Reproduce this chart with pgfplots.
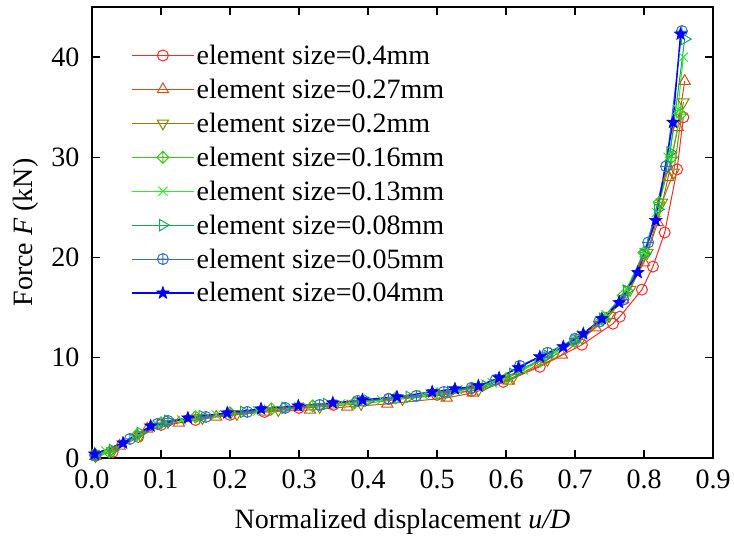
\documentclass[border=0pt]{standalone}
\usepackage{fontspec}
\setmainfont{Liberation Serif}
\usepackage{pgfplots}
\pgfplotsset{compat=1.18}
\usetikzlibrary{plotmarks}

\definecolor{c1}{RGB}{255,40,40}
\definecolor{c2}{RGB}{210,80,20}
\definecolor{c3}{RGB}{140,130,0}
\definecolor{c4}{RGB}{60,200,30}
\definecolor{c5}{RGB}{40,240,40}
\definecolor{c6}{RGB}{20,170,90}
\definecolor{c7}{RGB}{48,112,192}
\definecolor{c8}{RGB}{0,0,255}

% diamond with a cross inside
\pgfdeclareplotmark{diamondplus}{%
  \pgfpathmoveto{\pgfqpoint{0pt}{\pgfplotmarksize}}%
  \pgfpathlineto{\pgfqpoint{\pgfplotmarksize}{0pt}}%
  \pgfpathlineto{\pgfqpoint{0pt}{-\pgfplotmarksize}}%
  \pgfpathlineto{\pgfqpoint{-\pgfplotmarksize}{0pt}}%
  \pgfpathclose
  \pgfpathmoveto{\pgfqpoint{0pt}{\pgfplotmarksize}}%
  \pgfpathlineto{\pgfqpoint{0pt}{-\pgfplotmarksize}}%
  \pgfpathmoveto{\pgfqpoint{\pgfplotmarksize}{0pt}}%
  \pgfpathlineto{\pgfqpoint{-\pgfplotmarksize}{0pt}}%
  \pgfusepathqstroke}
% filled five-point star
\pgfdeclareplotmark{fivestar}{%
  \pgfpathmoveto{\pgfpointpolar{90}{\pgfplotmarksize}}%
  \pgfpathlineto{\pgfpointpolar{126}{0.42\pgfplotmarksize}}%
  \pgfpathlineto{\pgfpointpolar{162}{\pgfplotmarksize}}%
  \pgfpathlineto{\pgfpointpolar{198}{0.42\pgfplotmarksize}}%
  \pgfpathlineto{\pgfpointpolar{234}{\pgfplotmarksize}}%
  \pgfpathlineto{\pgfpointpolar{270}{0.42\pgfplotmarksize}}%
  \pgfpathlineto{\pgfpointpolar{306}{\pgfplotmarksize}}%
  \pgfpathlineto{\pgfpointpolar{342}{0.42\pgfplotmarksize}}%
  \pgfpathlineto{\pgfpointpolar{18}{\pgfplotmarksize}}%
  \pgfpathlineto{\pgfpointpolar{54}{0.42\pgfplotmarksize}}%
  \pgfpathclose
  \pgfusepathqfillstroke}

\newcommand{\bigfont}{\fontsize{28}{31}\selectfont}

\begin{document}
\begin{tikzpicture}
\begin{axis}[
    name=ax,
    scale only axis,
    width=621pt, height=451pt,
    xmin=0, xmax=0.9, ymin=0, ymax=45,
    xtick={0,0.1,...,0.9},
    ytick={0,10,20,30,40},
    /pgf/number format/assume math mode=true,
    tick label style={font=\bigfont},
    xticklabel style={yshift=-8pt, /pgf/number format/.cd, fixed, fixed zerofill, precision=1},
    yticklabel style={xshift=-9pt},
    label style={font=\bigfont},
    xlabel={Normalized displacement \textit{u/D}},
    ylabel={Force \textit{F} (kN)},
    xlabel style={yshift=-14pt},
    ylabel style={yshift=6pt},
    axis line style={line width=1.6pt},
    major tick style={line width=1.4pt, black},
    major tick length=8pt,
    tick align=inside,
    legend cell align=left,
    legend style={draw=none, fill=none, font=\bigfont,
        at={(0.058,0.925)}, anchor=north west, row sep=9pt},
    legend image code/.code={%
        \draw[mark repeat=2,mark phase=2,#1]
        plot coordinates {(0pt,0pt)(31pt,0pt)(62pt,0pt)};},
    every axis plot/.append style={line width=1pt, mark size=5.5pt},
]
\addplot[c1, mark=o] coordinates {
(0.005,0.2)(0.03,0.6)(0.067,2.1)(0.1,3.3)(0.15,3.8)(0.2,4.3)(0.25,4.6)(0.3,5.0)
(0.35,5.3)(0.43,5.9)(0.5,6.3)(0.55,6.7)(0.596,7.6)(0.649,9.1)(0.710,11.3)
(0.755,13.4)(0.765,14.1)(0.797,16.8)(0.813,19.1)(0.830,22.5)(0.848,28.8)(0.857,34.0)};
\addlegendentry{element size=0.4mm}
\addplot[c2, mark=triangle, mark size=6.5pt] coordinates {
(0.005,0.2)(0.04,1.2)(0.08,2.9)(0.126,3.5)(0.18,4.1)(0.25,4.6)(0.316,4.8)(0.37,5.1)
(0.428,5.4)(0.514,6.0)(0.552,6.5)(0.604,7.7)(0.681,10.3)(0.73,13.0)(0.77,15.8)
(0.80,19.5)(0.82,23.5)(0.835,28.0)(0.849,33.0)(0.859,37.6)};
\addlegendentry{element size=0.27mm}
\addplot[c3, mark=triangle, mark size=6.5pt, every mark/.append style={rotate=180}] coordinates {
(0.005,0.2)(0.03,0.7)(0.07,2.3)(0.11,3.6)(0.16,4.0)(0.21,4.4)(0.27,4.8)(0.33,5.1)
(0.39,5.4)(0.45,5.9)(0.51,6.3)(0.56,6.8)(0.61,8.0)(0.66,9.8)(0.71,12.0)(0.75,14.2)
(0.78,16.8)(0.805,20.5)(0.826,25.5)(0.843,28.5)(0.857,35.5)};
\addlegendentry{element size=0.2mm}
\addplot[c4, mark=diamondplus, mark size=6pt] coordinates {
(0.005,0.3)(0.025,0.6)(0.065,2.3)(0.1,3.5)(0.15,4.1)(0.2,4.5)(0.26,4.9)(0.32,5.2)
(0.38,5.5)(0.44,6.0)(0.5,6.4)(0.55,6.9)(0.6,7.9)(0.65,9.7)(0.7,11.6)(0.74,13.8)
(0.77,16.2)(0.80,20.5)(0.822,25.5)(0.84,30.0)(0.853,34.3)};
\addlegendentry{element size=0.16mm}
\addplot[c5, mark=x, mark size=6.5pt] coordinates {
(0.005,0.3)(0.02,0.7)(0.06,2.0)(0.095,3.3)(0.13,3.8)(0.18,4.3)(0.24,4.7)(0.3,5.1)
(0.36,5.4)(0.42,5.8)(0.48,6.3)(0.53,6.8)(0.58,7.5)(0.625,8.8)(0.67,10.6)(0.71,12.3)
(0.745,14.3)(0.775,16.8)(0.80,20.5)(0.818,24.5)(0.835,30.0)(0.849,34.8)(0.857,40.0)};
\addlegendentry{element size=0.13mm}
\addplot[c6, mark=triangle, mark size=6.5pt, every mark/.append style={rotate=-90}] coordinates {
(0.005,0.3)(0.03,0.8)(0.07,2.5)(0.11,3.7)(0.16,4.2)(0.22,4.6)(0.28,5.0)(0.34,5.4)
(0.40,5.7)(0.46,6.1)(0.52,6.6)(0.57,7.2)(0.61,8.4)(0.66,10.2)(0.70,11.8)(0.74,13.9)
(0.775,16.7)(0.80,20.3)(0.82,24.8)(0.838,30.5)(0.859,41.8)};
\addlegendentry{element size=0.08mm}
\addplot[c7, mark=oplus] coordinates {
(0.005,0.3)(0.055,1.9)(0.095,3.4)(0.11,3.7)(0.165,4.1)(0.225,4.6)(0.28,5.0)(0.33,5.3)
(0.385,5.7)(0.43,5.9)(0.47,6.2)(0.51,6.6)(0.55,7.0)(0.585,7.8)(0.62,9.2)(0.66,10.5)
(0.70,11.9)(0.735,13.6)(0.77,15.8)(0.806,21.5)(0.832,29.1)(0.855,42.6)};
\addlegendentry{element size=0.05mm}
\addplot[c8, line width=1.4pt, mark=fivestar, mark size=6.5pt, mark options={line width=0.6pt}] coordinates {
(0.004,0.4)(0.045,1.5)(0.085,3.2)(0.139,4.0)(0.196,4.5)(0.245,4.9)(0.299,5.2)(0.349,5.5)
(0.392,5.8)(0.442,6.1)(0.493,6.6)(0.526,6.9)(0.560,7.2)(0.590,8.0)(0.618,9.0)(0.649,10.1)
(0.683,11.1)(0.712,12.4)(0.739,13.9)(0.764,15.5)(0.791,18.5)(0.817,23.7)(0.842,33.5)(0.853,42.3)};
\addlegendentry{element size=0.04mm}
\end{axis}
\pgfresetboundingbox
\path[use as bounding box] ([xshift=-92pt,yshift=-88pt]ax.south west) rectangle ([xshift=21pt,yshift=7pt]ax.north east);
\end{tikzpicture}
\end{document}
